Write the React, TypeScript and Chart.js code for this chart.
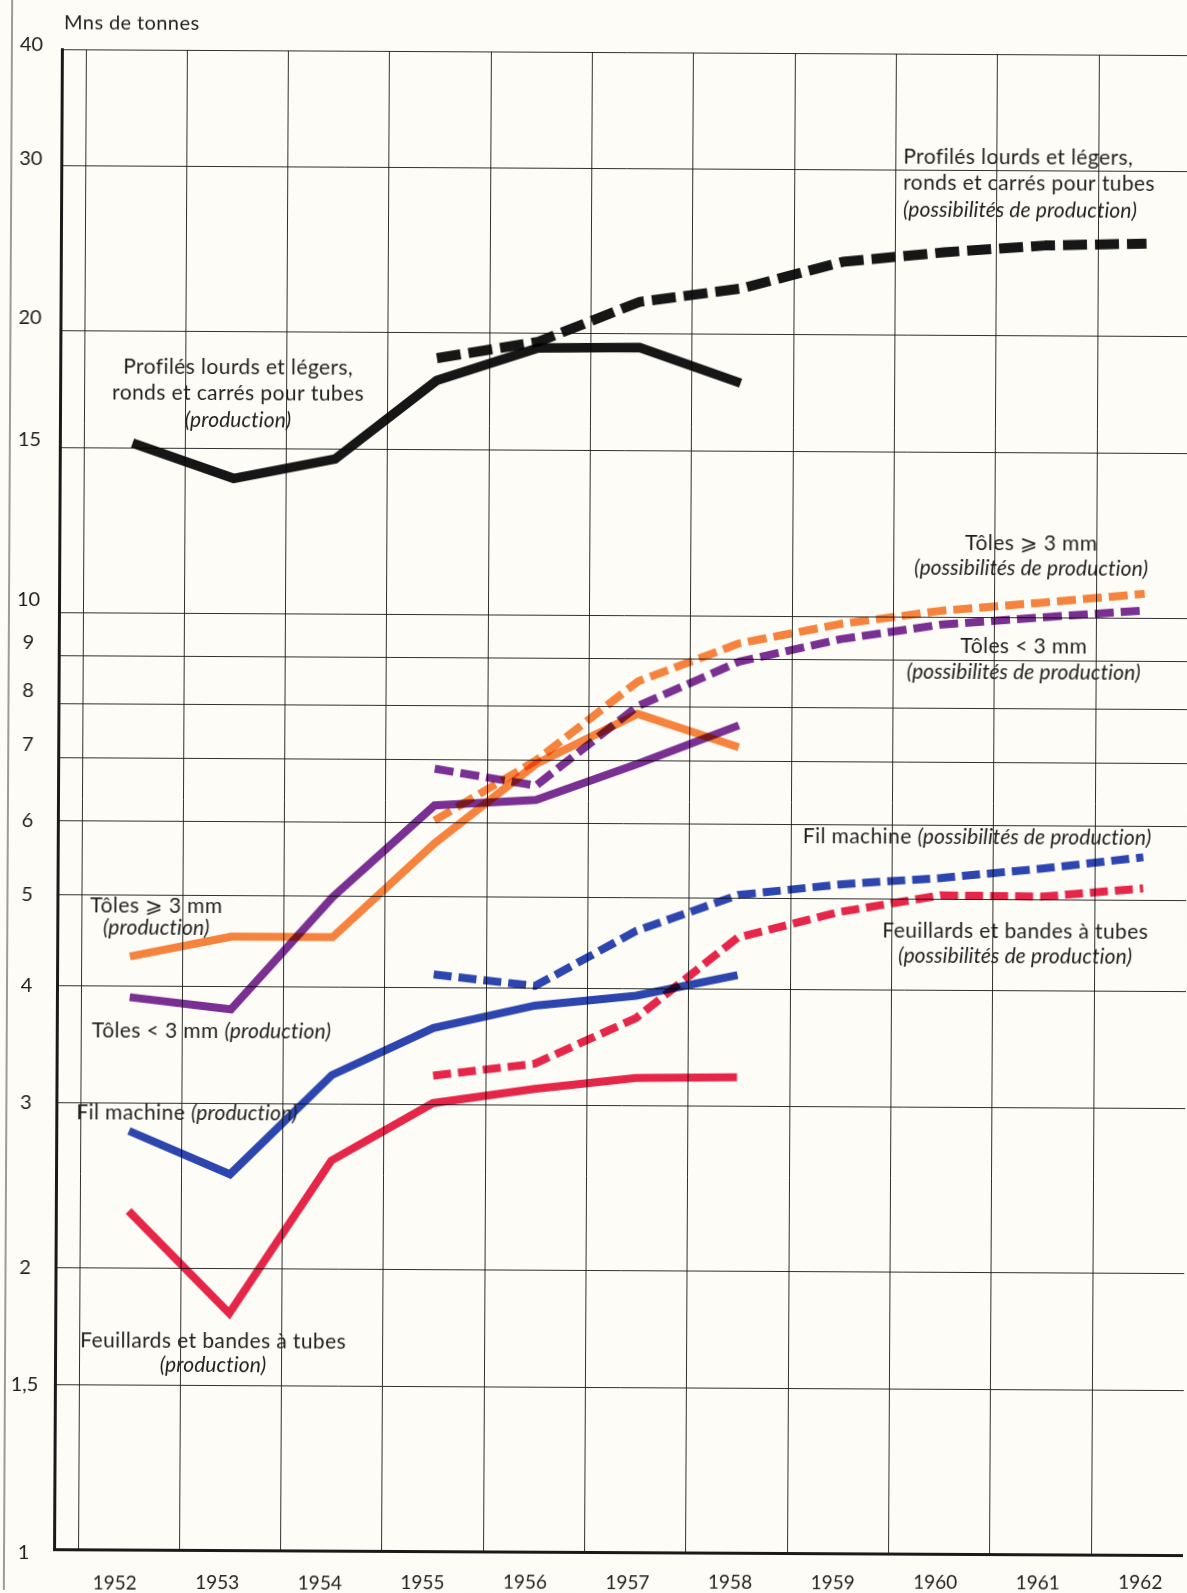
import React, { useEffect, useRef } from "react";
import { Chart, registerables } from "chart.js";

Chart.register(...registerables);

// ---------- data ----------
const YEARS_PRODUCTION = [1952, 1953, 1954, 1955, 1956, 1957, 1958];
const YEARS_CAPACITY = [1955, 1956, 1957, 1958, 1959, 1960, 1961, 1962];
const YEAR_LABELS = ["1952", "1953", "1954", "1955", "1956", "1957", "1958", "1959", "1960", "1961", "1962"];

const Y_TICKS = [1, 1.5, 2, 3, 4, 5, 6, 7, 8, 9, 10, 15, 20, 30, 40];
const Y_TICK_LABELS = ["1", "1,5", "2", "3", "4", "5", "6", "7", "8", "9", "10", "15", "20", "30", "40"];

// Profilés lourds et légers, ronds et carrés pour tubes
const profilesProduction = [15.2, 13.95, 14.65, 17.8, 19.3, 19.35, 17.75];
const profilesCapacity = [18.8, 19.6, 21.65, 22.4, 23.95, 24.55, 25.0, 25.15];
// Tôles >= 3 mm
const platesThickProduction = [4.3, 4.52, 4.52, 5.7, 6.94, 7.86, 7.25];
const platesThickCapacity = [6.03, 7.0, 8.51, 9.36, 9.83, 10.17, 10.39, 10.63];
// Tôles < 3 mm
const platesThinProduction = [3.89, 3.78, 4.99, 6.26, 6.35, 6.95, 7.65];
const platesThinCapacity = [6.85, 6.58, 8.01, 8.95, 9.47, 9.83, 10.02, 10.2];
// Fil machine
const wireRodProduction = [2.8, 2.52, 3.22, 3.62, 3.83, 3.93, 4.14];
const wireRodCapacity = [4.13, 4.02, 4.61, 5.04, 5.18, 5.27, 5.4, 5.56];
// Feuillards et bandes à tubes
const stripProduction = [2.3, 1.79, 2.61, 3.01, 3.12, 3.21, 3.22];
const stripCapacity = [3.22, 3.32, 3.72, 4.54, 4.84, 5.05, 5.04, 5.15];

// ---------- styling ----------
const W = 1187;
const H = 1593;
const BG = "#fdfcf6";
const INK = "#1f1f1f";
const FONT = "Lato, 'Open Sans', 'DejaVu Sans', sans-serif";
const PAGE_TILT_DEG = 0.3; // the printed page is scanned slightly askew
const TILT = Math.tan((PAGE_TILT_DEG * Math.PI) / 180);

const C_BLACK = "#161616";
const C_ORANGE = "#f8853f";
const C_PURPLE = "#7b2f97";
const C_BLUE = "#2d46b5";
const C_RED = "#e8264b";

const Y_LABEL_LIFT = [4, 0, 0, 0, 0, 0, 0, -13, -13, -13, -13, -8, -13, -7, -4];

type Ann = { lines: string[]; x: number; ys: number[]; align: "left" | "center" };
const ANNOTATIONS: Ann[] = [
  { lines: ["Profilés lourds et légers,", "ronds et carrés pour tubes", "(production)"], x: 236, ys: [369, 395, 422], align: "center" },
  { lines: ["Profilés lourds et légers,", "ronds et carrés pour tubes", "(possibilités de production)"], x: 900, ys: [155, 181, 208], align: "left" },
  { lines: ["Tôles ⩾ 3 mm", "(possibilités de production)"], x: 1030, ys: [541, 566], align: "center" },
  { lines: ["Tôles < 3 mm", "(possibilités de production)"], x: 1023, ys: [644, 670], align: "center" },
  { lines: ["Fil machine (possibilités de production)"], x: 803, ys: [835], align: "left" },
  { lines: ["Feuillards et bandes à tubes", "(possibilités de production)"], x: 1016, ys: [929, 954], align: "center" },
  { lines: ["Tôles ⩾ 3 mm", "(production)"], x: 157, ys: [908, 930], align: "center" },
  { lines: ["Tôles < 3 mm (production)"], x: 93, ys: [1033], align: "left" },
  { lines: ["Fil machine (production)"], x: 78, ys: [1115], align: "left" },
  { lines: ["Feuillards et bandes à tubes", "(production)"], x: 216, ys: [1343, 1367], align: "center" },
];

const TEXT_SIZE = 21;
const SPACING_UPRIGHT = "0.4px";
const SPACING_ITALIC = "0.1px";

function pts(years: number[], vals: number[]) {
  return years.map((y, i) => ({ x: y, y: vals[i] }));
}

function solid(label: string, years: number[], vals: number[], color: string, width: number) {
  return {
    label,
    data: pts(years, vals),
    borderColor: color,
    backgroundColor: color,
    borderWidth: width,
    pointRadius: 0,
    tension: 0,
    fill: false,
    borderCapStyle: "butt",
    borderJoinStyle: "miter",
  };
}

function dashed(label: string, years: number[], vals: number[], color: string, width: number, dash: number[]) {
  return { ...solid(label, years, vals, color, width), borderDash: dash, borderJoinStyle: "round" };
}

function segments(line: string): { t: string; it: boolean }[] {
  const i = line.indexOf("(");
  if (i < 0) return [{ t: line, it: false }];
  const out: { t: string; it: boolean }[] = [];
  if (i > 0) out.push({ t: line.slice(0, i), it: false });
  out.push({ t: line.slice(i), it: true });
  return out;
}

function setFont(ctx: any, italic: boolean, size: number) {
  ctx.font = `${italic ? "italic " : ""}${size}px ${FONT}`;
  ctx.letterSpacing = italic ? SPACING_ITALIC : SPACING_UPRIGHT;
}

const decorPlugin = {
  id: "decor",
  beforeDraw(chart: any) {
    const ctx = chart.ctx;
    ctx.save();
    ctx.fillStyle = BG;
    ctx.fillRect(0, 0, chart.width, chart.height);
    ctx.restore();
  },
  beforeDatasetsDraw(chart: any) {
    chart.ctx.save();
    chart.ctx.globalCompositeOperation = "multiply";
  },
  afterDatasetsDraw(chart: any) {
    chart.ctx.restore();
  },
  afterDraw(chart: any) {
    const ctx = chart.ctx;
    const xs = chart.scales.x;
    const ys = chart.scales.y;
    ctx.save();
    ctx.fillStyle = INK;
    ctx.textBaseline = "middle";

    // page edge
    ctx.strokeStyle = "rgba(90,90,90,0.8)";
    ctx.lineWidth = 1.5;
    ctx.beginPath();
    ctx.moveTo(8, 0);
    ctx.lineTo(8, H);
    ctx.stroke();

    // y tick labels
    ctx.font = `20px ${FONT}`;
    ctx.textAlign = "center";
    Y_TICKS.forEach((v, i) => {
      ctx.fillText(Y_TICK_LABELS[i], 27.5, ys.getPixelForValue(v) + Y_LABEL_LIFT[i]);
    });

    // x tick labels (printed level on the page)
    ctx.font = `19px ${FONT}`;
    YEAR_LABELS.forEach((lab, i) => {
      const yr = Number(lab) - 0.118 + 0.0125 * i;
      const px = xs.getPixelForValue(yr);
      ctx.fillText(lab, px, 1583 - (px - W / 2) * TILT);
    });

    // unit title
    ctx.textAlign = "left";
    setFont(ctx, false, 20);
    ctx.fillText("Mns de tonnes", 60, 26);

    // annotations
    ANNOTATIONS.forEach((a) => {
      a.lines.forEach((line, li) => {
        const segs = segments(line);
        const widths = segs.map((s) => {
          setFont(ctx, s.it, TEXT_SIZE);
          return ctx.measureText(s.t).width;
        });
        const total = widths.reduce((p, c) => p + c, 0);
        let x = a.align === "center" ? a.x - total / 2 : a.x;
        ctx.textAlign = "left";
        segs.forEach((s, si) => {
          setFont(ctx, s.it, TEXT_SIZE);
          ctx.fillText(s.t, x, a.ys[li]);
          x += widths[si];
        });
      });
    });
    ctx.restore();
  },
};

export default function App() {
  const ref = useRef<HTMLCanvasElement | null>(null);

  useEffect(() => {
    if (!ref.current) return;
    const gridX = YEAR_LABELS.map((l) => Number(l) - 0.48);
    const chart = new Chart(ref.current, {
      type: "line",
      data: {
        datasets: [
          solid("Profilés (production)", YEARS_PRODUCTION, profilesProduction, C_BLACK, 9.5),
          dashed("Profilés (possibilités)", YEARS_CAPACITY, profilesCapacity, C_BLACK, 10, [24, 8]),
          solid("Tôles ⩾ 3 mm (production)", YEARS_PRODUCTION, platesThickProduction, C_ORANGE, 8),
          dashed("Tôles ⩾ 3 mm (possibilités)", YEARS_CAPACITY, platesThickCapacity, C_ORANGE, 8, [19, 7]),
          solid("Tôles < 3 mm (production)", YEARS_PRODUCTION, platesThinProduction, C_PURPLE, 8),
          dashed("Tôles < 3 mm (possibilités)", YEARS_CAPACITY, platesThinCapacity, C_PURPLE, 8, [19, 7]),
          solid("Fil machine (production)", YEARS_PRODUCTION, wireRodProduction, C_BLUE, 8),
          dashed("Fil machine (possibilités)", YEARS_CAPACITY, wireRodCapacity, C_BLUE, 8, [18, 7]),
          solid("Feuillards (production)", YEARS_PRODUCTION, stripProduction, C_RED, 8),
          dashed("Feuillards (possibilités)", YEARS_CAPACITY, stripCapacity, C_RED, 8, [18, 7]),
        ] as any,
      },
      options: {
        animation: false,
        responsive: false,
        devicePixelRatio: 1,
        events: [],
        layout: { padding: { left: 58, top: 52, right: 0, bottom: 41 } },
        plugins: { legend: { display: false }, tooltip: { enabled: false } },
        scales: {
          x: {
            type: "linear",
            min: 1951.282,
            max: 1962.428,
            ticks: { display: false },
            grid: { display: true, drawTicks: false, color: "rgba(25,25,25,0.9)", lineWidth: 1 },
            border: { display: true, color: "#1a1a1a", width: 3 },
            afterBuildTicks: (scale: any) => {
              scale.ticks = gridX.map((v) => ({ value: v }));
            },
          },
          y: {
            type: "logarithmic",
            min: 1,
            max: 40,
            ticks: { display: false },
            grid: { display: true, drawTicks: false, color: "rgba(25,25,25,0.9)", lineWidth: 1 },
            border: { display: true, color: "#1a1a1a", width: 3 },
            afterBuildTicks: (scale: any) => {
              scale.ticks = Y_TICKS.map((v) => ({ value: v }));
            },
          },
        },
      } as any,
      plugins: [decorPlugin as any],
    });
    return () => chart.destroy();
  }, []);

  return (
    <div style={{ position: "absolute", left: 0, top: 0, width: W, height: H, background: BG, overflow: "hidden" }}>
      <canvas
        ref={ref}
        width={W}
        height={H}
        style={{ display: "block", width: W, height: H, transform: `rotate(${PAGE_TILT_DEG}deg)`, transformOrigin: "50% 50%" }}
      />
    </div>
  );
}
